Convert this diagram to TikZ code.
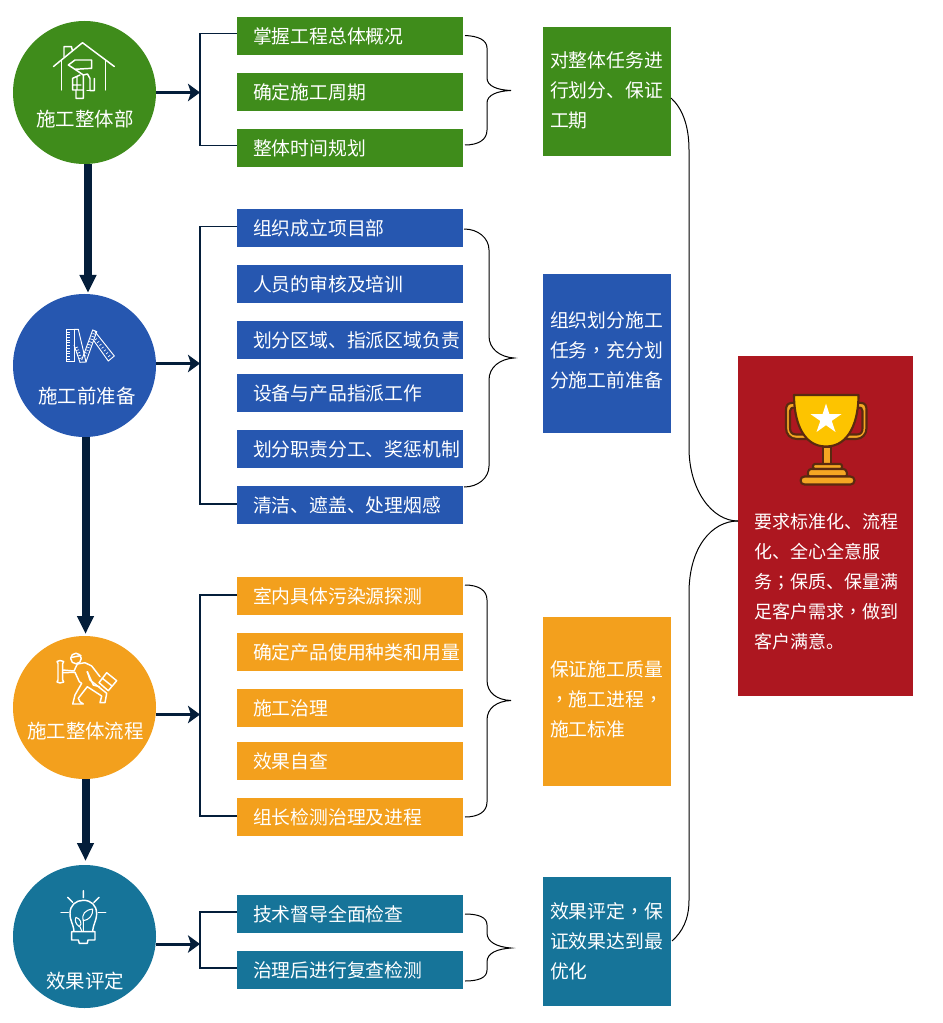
\documentclass[tikz,border=0pt]{standalone}
\usepackage{fontspec}
\setmainfont{Noto Sans CJK SC}
\newfontfamily\tcf{Noto Sans CJK TC}
\usetikzlibrary{arrows.meta}
\definecolor{cgreen}{HTML}{3F8C1B}
\definecolor{cblue}{HTML}{2657B0}
\definecolor{corange}{HTML}{F3A01D}
\definecolor{cteal}{HTML}{167499}
\definecolor{cred}{HTML}{AD1720}
\definecolor{navy}{HTML}{041E3A}
\definecolor{cupy}{HTML}{FDC400}
\definecolor{cupo}{HTML}{F5A623}
\definecolor{cupb}{HTML}{5A2A10}
\newcommand{\cma}{{\tcf ，}}
\newcommand{\sem}{{\tcf ；}}
\tikzset{
  x=0.75pt,y=-0.75pt,
  every node/.style={text=white,font=\fontsize{14.12pt}{22.5pt}\selectfont,inner sep=0pt,outer sep=0pt},
  circ/.style={circle,minimum size=107.25pt},
  circlab/.style={font=\fontsize{14.6pt}{22.5pt}\selectfont},
  item/.style={rectangle,minimum width=169.5pt,minimum height=28.5pt,text width=169.5pt,align=left},
  sidebox/.style={rectangle,minimum width=96pt},
  lab/.style={anchor=west,align=left},
  redlab/.style={anchor=west,align=left,font=\fontsize{13.5pt}{22.5pt}\selectfont},
  bracket/.style={draw=navy,line width=0.85pt},
  side/.style={draw=navy,line width=2.25pt,-{Stealth[length=9pt,width=13pt,inset=2.2pt]}},
  thick arrow/.style={draw=navy,line width=6pt,-{Stealth[length=13.5pt,width=12pt,inset=0pt]}},
  brace/.style={draw=black,line width=0.75pt},
  icon/.style={draw=white,line width=1.1pt,line cap=round,line join=round},
  iconthin/.style={draw=white,line width=0.5pt}
}
\begin{document}
\begin{tikzpicture}
\useasboundingbox (0,0) rectangle (942,1023);
% circles
\node[circ,fill=cgreen] (c1) at (84.5,92.5) {};
\node[circ,fill=cblue] (c2) at (84.5,365.5) {};
\node[circ,fill=corange] (c3) at (84.5,707.5) {};
\node[circ,fill=cteal] (c4) at (84.5,936.5) {};
\node[circlab] (c1t) at (85,119.5) {施工整体部};
\node[circlab] (c2t) at (87,396.5) {施工前准备};
\node[circlab] (c3t) at (85.5,731.5) {施工整体流程};
\node[circlab] (c4t) at (85,981.5) {效果评定};
% item boxes
\foreach \n/\y/\c/\t in {
 a1/36/cgreen/掌握工程总体概况, a2/92/cgreen/确定施工周期, a3/148/cgreen/整体时间规划,
 b1/228/cblue/组织成立项目部, b2/284/cblue/人员的审核及培训, b3/340/cblue/划分区域、指派区域负责,
 b4/393/cblue/设备与产品指派工作, b5/449/cblue/划分职责分工、奖惩机制, b6/505/cblue/清洁、遮盖、处理烟感,
 d1/596/corange/室内具体污染源探测, d2/652/corange/确定产品使用种类和用量, d3/708/corange/施工治理,
 d4/761/corange/效果自查, d5/817/corange/组长检测治理及进程,
 e1/914/cteal/技术督导全面检查, e2/970/cteal/治理后进行复查检测}
 {\node[item,fill=\c] (\n) at (350,\y) {\hspace*{12pt}\raisebox{-0.4pt}{\t}};}
% side boxes
\node[sidebox,fill=cgreen,minimum height=96.75pt] (s1) at (607,91.5) {};
\node[sidebox,fill=cblue,minimum height=119.25pt] (s2) at (607,353.5) {};
\node[sidebox,fill=corange,minimum height=126.75pt] (s3) at (607,701.5) {};
\node[sidebox,fill=cteal,minimum height=96.75pt] (s4) at (607,941.5) {};
\node[rectangle,fill=cred,minimum width=131.25pt,minimum height=255pt] (r) at (825.5,526) {};
% side box text
\node[lab] (s1t) at (550,90.5) {对整体任务进\\行划分、保证\\工期};
\node[lab] (s2t) at (550,350) {组织划分施工\\任务\cma 充分划\\分施工前准备};
\node[lab] (s3t) at (550,699) {保证施工质量\\\cma 施工进程\cma \\施工标准};
\node[lab] (s4t) at (550,941) {效果评定\cma 保\\证效果达到最\\优化};
\node[redlab] (rt) at (754,581.5) {要求标准化、流程\\化、全心全意服\\务\sem 保质、保量满\\足客户需求\cma 做到\\客户满意。};
% junctions
\coordinate (j1) at (200,92.5); \coordinate (j2) at (200,363.5);
\coordinate (j3) at (200,714.5); \coordinate (j4) at (200,944);
\draw[bracket] ([yshift=2pt]a1.west) -| (j1) |- ([yshift=2pt]a3.west);
\draw[bracket] ([yshift=1.25pt]b1.west) -| (j2) |- ([yshift=0.75pt]b6.west);
\draw[bracket] ([yshift=0.75pt]d1.west) -| (j3) |- ([yshift=0.75pt]d5.west);
\draw[bracket] ([yshift=1.5pt]e1.west) -| (j4) |- ([yshift=1.5pt]e2.west);
\draw[side] (c1.east |- j1) -- (j1);
\draw[side] (c2.east |- j2) -- (j2);
\draw[side] (c3.east |- j3) -- (j3);
\draw[side] (c4.east |- j4) -- (j4);
% thick arrows
\coordinate (t1) at (88,293); \coordinate (t2) at (85.5,634); \coordinate (t3) at (85.5,861);
\draw[thick arrow] (t1 |- c1.south) -- (t1);
\draw[thick arrow] (t2 |- c2.south) -- (t2);
\draw[thick arrow] (t3 |- c3.south) -- (t3);
% braces
\coordinate (p1) at (511,90.5); \coordinate (p2) at (514,358); \coordinate (p3) at (511,700.5); \coordinate (p4) at (511,948);
\draw[brace] (465,35.5) .. controls (478,36) and (487,40) .. (487,48) -- (487,78)
  .. controls (487,86) and (497,90) .. (p1) .. controls (497,91) and (487,95) .. (487,103) -- (487,130)
  .. controls (487,140) and (478,145) .. (465,145);
\draw[brace] (464,229) .. controls (478,229) and (489,238) .. (489,250) -- (489,336)
  .. controls (489,349) and (500,357) .. (p2) .. controls (500,359) and (489,367) .. (489,380) -- (489,466)
  .. controls (489,478) and (478,487) .. (464,487);
\draw[brace] (465,585) .. controls (478,585) and (487,590) .. (487,600) -- (487,680)
  .. controls (487,693) and (497,700) .. (p3) .. controls (497,701) and (487,708) .. (487,720) -- (487,802)
  .. controls (487,812) and (478,817) .. (465,817);
\draw[brace] (465,914) .. controls (478,914) and (487,917) .. (487,925) -- (487,933)
  .. controls (487,942) and (497,947) .. (p4) .. controls (497,949) and (487,953) .. (487,962) -- (487,970)
  .. controls (487,978) and (478,981) .. (465,981);
% big connector
\coordinate (rm) at (738,521);
\draw[brace] (671,98) .. controls (682,108) and (689,125) .. (689,150) -- (689,448)
  .. controls (689,490) and (712,521) .. (rm);
\draw[brace] (rm) .. controls (712,521) and (689,547) .. (689,593) -- (689,900)
  .. controls (689,920) and (682,932) .. (672,941);
% house icon
\draw[icon] (53.5,66.5) -- (82.5,42.7) -- (114.3,66.5);
\draw[icon] (61.7,60) -- (61.7,90) (105.7,60) -- (105.7,90);
\draw[icon] (64,57) -- (64,46.7) -- (71.5,46.7) -- (72.5,51);
\draw[icon] (68.3,65) -- (75,60) -- (91.7,60) -- (91.7,68.3) -- (75,69.3) -- cycle;
\draw[icon] (75,69.3) -- (83.3,75) -- (83.3,98.3) -- (76,98.3) -- (76,90);
\draw[icon] (72.7,90) -- (72.7,78.3) -- (80,75) (72.7,90) -- (83.3,90) (72.7,85) -- (81,85) (77,77) -- (77,90);
\draw[icon] (83.3,75) -- (87.5,74) -- (90,78.5) -- (90,90.7) -- (94.3,90.7) -- (94.3,78.5);
\draw[icon] (87,90.7) -- (90,90.7);
% rulers icon
\draw[iconthin,line width=0.7pt] (66,329.5) -- (74,329.5) -- (74,361.5) -- (66,361.5) -- cycle;
\draw[iconthin,line width=0.7pt] (74,329.3) -- (78.3,329.3) -- (86,362) -- (80,362.3) -- (74,345);
\draw[iconthin,line width=0.7pt] (81.7,360) -- (92.7,330) -- (96.7,331.7) -- (86,362);
\draw[iconthin,line width=0.7pt] (95,331.7) -- (114.3,356) -- (108.3,361) -- (93.3,340);
\foreach \i in {0,...,10}{\draw[iconthin] (66,{332+2.7*\i}) -- (69.5,{332+2.7*\i});}
\foreach \i in {0,...,9}{\draw[iconthin] ({83+1.2*\i},{355-2.7*\i}) -- ({86+1.2*\i},{356-2.7*\i});}
\foreach \i in {0,...,6}{\draw[iconthin] ({97+2.2*\i},{338.5+2.8*\i}) -- ({95+2.2*\i},{340+2.8*\i});}
\foreach \i in {0,...,4}{\draw[iconthin] ({75+1*\i},{348+2.7*\i}) -- ({78+1*\i},{347+2.7*\i});}
% worker icon
\draw[icon] (76,658.5) circle (5.3);
\draw[icon] (71,657.5) -- (81,655.5);
\draw[icon] (58,663.5) -- (58,680) -- (57,682) (62.7,663.5) -- (62.7,680) -- (63.7,682)
  (57,661.5) -- (58,663.5) (63.7,661.5) -- (62.7,663.5) (57,661.5) -- (60,660.5) -- (63.7,661.5) (57,682) -- (60,683) -- (63.7,682);
\draw[icon] (62.7,670) -- (74,671) -- (77.3,664) -- (85,662.7) -- (91.7,666) -- (100,676.7);
\draw[icon] (62.7,672.7) -- (75,672.3) -- (79.3,681.7) -- (81.7,683.3) -- (75,695) -- (72.7,704) -- (83.3,704) -- (80,701.7) -- (78.3,698.3) -- (87.3,686.7) -- (101.7,696) -- (100,702.7) -- (105,702.7) -- (106.7,693.3) -- (90,680) -- (87.3,671.7);
\draw[icon] (87.3,671.7) -- (93.3,685) -- (99.3,686.7);
\draw[icon] (106.7,672.7) -- (116.7,680.7) -- (108.3,690.7) -- (99,682.7) -- cycle (102,678) -- (112,686);
% bulb icon
\draw[icon] (71.7,931.7) -- (95,931.7) -- (95,940) -- (88,940) -- (87.3,943.3) -- (79.3,943.3) -- (78.3,940) -- (71.7,940) -- cycle;
\draw[icon] (74,931) .. controls (73,923) and (70,921) .. (70,913.5) .. controls (70,905) and (76,900.3) .. (83.3,900.3)
 .. controls (91,900.3) and (96.6,905) .. (96.6,913.5) .. controls (96.6,921) and (93.5,923) .. (92.7,931);
\draw[icon,line width=0.8pt] (83.3,931) -- (83.3,920) (80,926.7) -- (81.7,931);
\draw[icon,line width=0.8pt] (83.3,920.7) .. controls (81.5,914) and (85,910) .. (92.7,909) .. controls (93,915) and (89.5,920) .. (83.3,920.7);
\draw[icon,line width=0.8pt] (79.3,926.7) .. controls (75.5,924) and (74.5,920) .. (76,917.3) .. controls (80,918.5) and (83,923.5) .. (79.3,926.7);
\draw[icon] (83.3,890.7) -- (83.3,897.7) (67.7,897.3) -- (72.7,902.3) (99,897.3) -- (94,902.3);
\draw[icon] (61,912.3) -- (68.3,912.3) (98.3,912.3) -- (105.7,912.3);
% trophy icon
\begin{scope}[line width=1.6pt,draw=cupb,line join=round]
\filldraw[fill=cupo] (795,402.7) -- (791,403) .. controls (787.5,403.5) and (786,406) .. (786,410) -- (786,428)
  .. controls (786,434) and (790,439) .. (797,439) -- (810,439) -- (806,434.5) -- (796,434.5)
  .. controls (792,434.5) and (790,432) .. (790,428) -- (790,411) .. controls (790,408) and (792,407.5) .. (796,407.5) -- cycle;
\filldraw[fill=cupo] (858,402.7) -- (862,403) .. controls (865.5,403.5) and (866.5,406) .. (866.5,410) -- (866.5,428)
  .. controls (866.5,434) and (862.5,439) .. (856,439) -- (843,439) -- (847,434.5) -- (857,434.5)
  .. controls (861,434.5) and (862.5,432) .. (862.5,428) -- (862.5,411) .. controls (862.5,408) and (861,407.5) .. (857,407.5) -- cycle;
\filldraw[fill=cupo] (822.7,447) rectangle (830.7,464);
\filldraw[fill=cupo,rounded corners=1.5pt] (813,464) rectangle (842,469);
\filldraw[fill=cupo,rounded corners=2pt] (808.5,469) -- (846,469) -- (847.5,476.5) -- (807.5,476.5) -- cycle;
\filldraw[fill=cupo,rounded corners=3pt] (800.5,476.5) rectangle (854.5,484.5);
\filldraw[fill=cupy] (794,395) -- (858.5,395) .. controls (858.5,420) and (850,446.5) .. (826,446.5) .. controls (802,446.5) and (794,420) .. (794,395) -- cycle;
\end{scope}
\fill[white] (826,403.5) -- (829.4,414.1) -- (841.5,414.1) -- (831.7,420.9) -- (835.5,432) -- (826,425.2) -- (816.5,432) -- (820.3,420.9) -- (810.5,414.1) -- (822.6,414.1) -- cycle;
\end{tikzpicture}
\end{document}
